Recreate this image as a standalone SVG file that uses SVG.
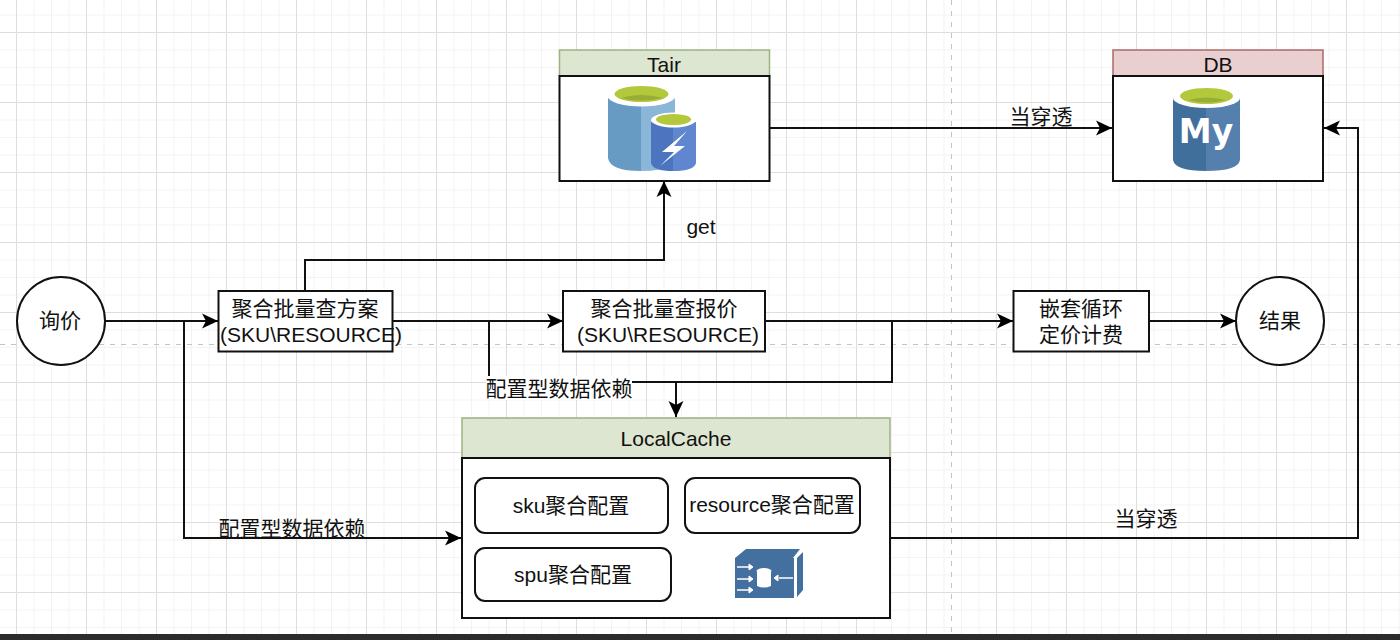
<svg xmlns="http://www.w3.org/2000/svg" width="1400" height="640" viewBox="0 0 1400 640">
<defs>
<pattern id="gridMinor" width="17.500" height="17.500" patternUnits="userSpaceOnUse" x="16" y="32"><path d="M17.500 0.500H0.500V17.500" fill="none" stroke="#f3f3f3" stroke-width="1"/></pattern>
<pattern id="gridMajor" width="70" height="70" patternUnits="userSpaceOnUse" x="16" y="32"><path d="M70 0.500H0.500V70" fill="none" stroke="#dedede" stroke-width="1"/></pattern>
<marker id="arrow" markerUnits="userSpaceOnUse" markerWidth="18" markerHeight="18" refX="16" refY="9" orient="auto"><path d="M0 1.500L16 9L0 16.500L4 9Z" fill="#000"/></marker>
</defs>
<style>
.t{font-family:"Liberation Sans","Noto Sans CJK SC",sans-serif;font-size:21px;fill:#111;text-anchor:middle}
.box{fill:#fff;stroke:#111;stroke-width:2}
.rbox{fill:#fff;stroke:#111;stroke-width:2}
.c{fill:none;stroke:#111;stroke-width:2}
.a{marker-end:url(#arrow)}
.page{fill:none;stroke:#c4c4c4;stroke-width:1;stroke-dasharray:5 6}
</style>
<rect width="1400" height="640" fill="#fff"/>
<rect width="1400" height="634" fill="url(#gridMinor)"/>
<rect width="1400" height="634" fill="url(#gridMajor)"/>
<path class="page" d="M0 344.500H1400M951.500 0V634"/>
<rect y="634" width="1400" height="6" fill="#2c2c2c"/>

<g id="connectors">
<path class="c a" d="M105 321H218"/>
<path class="c a" d="M184 321V538H461"/>
<path class="c a" d="M305 291V260H664V181"/>
<path class="c a" d="M393 321H563"/>
<path class="c a" d="M489 321V382H676V417"/>
<path class="c a" d="M765 321H1013"/>
<path class="c" d="M892 321V382H676"/>
<path class="c a" d="M1149 321H1236"/>
<path class="c a" d="M770 128H1112"/>
<path class="c a" d="M890 538H1358V128H1324"/>
</g>

<g id="n-xunjia"><circle cx="61" cy="321" r="44" class="box"/><text class="t" x="60" y="328">询价</text></g>
<g id="n-fangan"><rect x="218.500" y="291" width="174" height="60.500" class="box"/><text class="t" x="305" y="316">聚合批量查方案</text><text class="t" x="311" y="342">(SKU\RESOURCE)</text></g>
<g id="n-baojia"><rect x="563" y="291" width="202" height="60.500" class="box"/><text class="t" x="664" y="316">聚合批量查报价</text><text class="t" x="668" y="342">(SKU\RESOURCE)</text></g>
<g id="n-qiantao"><rect x="1013.500" y="291" width="135.500" height="60.500" class="box"/><text class="t" x="1081" y="316">嵌套循环</text><text class="t" x="1081" y="342">定价计费</text></g>
<g id="n-jieguo"><circle cx="1280" cy="321" r="44" class="box"/><text class="t" x="1280" y="328">结果</text></g>

<g id="n-tair">
<rect x="559.500" y="50" width="210" height="26" fill="#dde6d0" stroke="#9db382" stroke-width="1.500"/>
<text class="t" x="664" y="72">Tair</text>
<rect x="559.500" y="76" width="210" height="105" class="box"/>
<path d="M608 96V158Q610 171 641 171V96Z" fill="#689bc4"/>
<path d="M641 96V171Q661 171 675 165V96Z" fill="#8ab6d8"/>
<ellipse cx="641.500" cy="96" rx="34" ry="10.500" fill="#fff"/>
<ellipse cx="641.500" cy="94" rx="27" ry="8" fill="#b3c83a"/>
<path d="M621 98Q641 92 663 98Q641 103 621 98Z" fill="#98ad35"/>
<path d="M651 122V163Q653 171 673 171V122Z" fill="#4d74bf"/>
<path d="M673 122V171Q694 171 696 163V122Z" fill="#5f86ce"/>
<ellipse cx="673.500" cy="120" rx="22.500" ry="7.500" fill="#fff"/>
<ellipse cx="673.500" cy="119.500" rx="17.500" ry="5.500" fill="#b3c83a"/>
<path d="M687 131L662 152H674L660 166L685 146H674Z" fill="#fff"/>
</g>

<g id="n-db">
<rect x="1113" y="50" width="210" height="26" fill="#e9cfcf" stroke="#ad6a6a" stroke-width="1.500"/>
<text class="t" x="1218" y="72">DB</text>
<rect x="1113" y="76" width="210" height="105" class="box"/>
<path d="M1173 98V160Q1175 171 1206 171V98Z" fill="#416f9c"/>
<path d="M1206 98V171Q1238 171 1240 160V98Z" fill="#5580ae"/>
<ellipse cx="1206.500" cy="98" rx="33.500" ry="10" fill="#fff"/>
<ellipse cx="1206.500" cy="96" rx="26.500" ry="8" fill="#b3c83a"/>
<path d="M1188 100Q1206 95 1226 100Q1206 105 1188 100Z" fill="#98ad35"/>
<text x="1206" y="143" style="font-family:'DejaVu Sans',sans-serif;font-size:33px;font-weight:700;fill:#fff;text-anchor:middle">My</text>
</g>

<g id="n-localcache">
<rect x="462" y="418" width="428" height="40" fill="#dde6d0" stroke="#9db382" stroke-width="1.500"/>
<text class="t" x="676" y="446">LocalCache</text>
<rect x="462" y="458" width="428" height="160" class="box"/>
</g>
<g id="n-sku"><rect x="475" y="478" width="193" height="55" rx="10" class="rbox"/><text class="t" x="571" y="513">sku聚合配置</text></g>
<g id="n-resource"><rect x="685" y="478" width="175" height="55" rx="10" class="rbox"/><text class="t" x="772" y="512">resource聚合配置</text></g>
<g id="n-spu"><rect x="475" y="548" width="196" height="53" rx="10" class="rbox"/><text class="t" x="573" y="582">spu聚合配置</text></g>
<g id="n-cacheicon">
<path d="M735 558L746 549H800L793 558Z" fill="#44709f"/>
<path d="M735 558H794V598H735Z" fill="#44709f"/>
<path d="M797 558L803 552V590L797 597Z" fill="#44709f"/>
<ellipse cx="764" cy="571" rx="7.500" ry="3" fill="#fff"/>
<path d="M757 571V586Q764 589 771 586V571Q764 574 757 571Z" fill="#fff"/>
<path d="M737 567H750M737 579H750M737 590H750M793 578H779" fill="none" stroke="#fff" stroke-width="1.500"/>
<path d="M749 564L753 567L749 570ZM749 576L753 579L749 582ZM749 587L753 590L749 593ZM778 575L774 578L778 581Z" fill="#fff" stroke="#fff"/>
</g>

<g id="labels">
<text class="t" x="1041" y="124">当穿透</text>
<text class="t" x="701" y="234">get</text>
<rect x="486" y="376" width="146" height="24" fill="#fff"/>
<text class="t" x="559" y="396">配置型数据依赖</text>
<text class="t" x="292" y="536">配置型数据依赖</text>
<text class="t" x="1146" y="526">当穿透</text>
</g>
</svg>
